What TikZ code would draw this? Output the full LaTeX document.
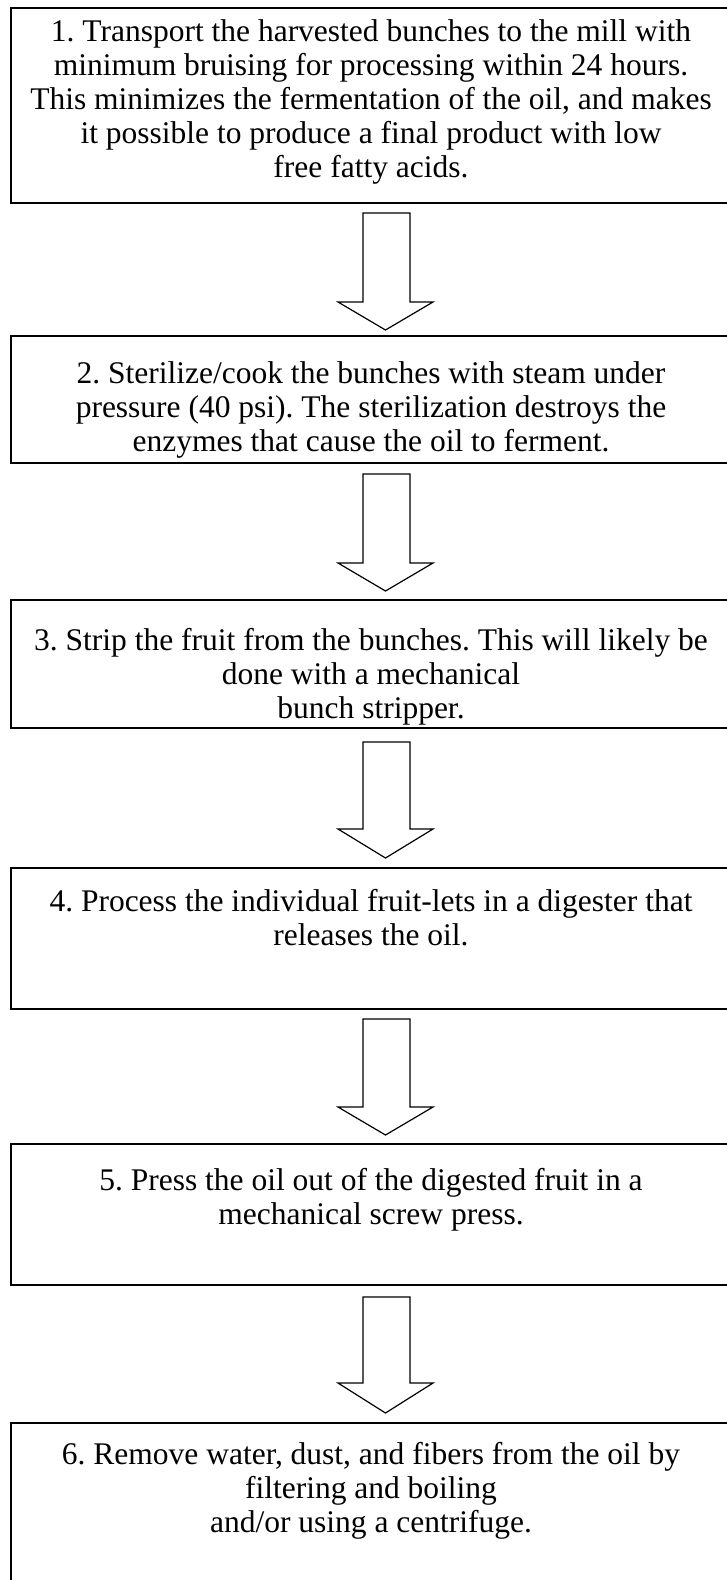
\documentclass[tikz,border=0pt]{standalone}
\usepackage{fontspec}
\setmainfont{Liberation Serif}
\usetikzlibrary{calc}
\tikzset{
  stepbox/.style={draw=black, line width=1.8pt, rectangle, anchor=north west, minimum width=720pt, inner sep=0pt, outer sep=0pt},
  txt/.style={anchor=north, align=center, inner sep=0pt, font=\fontsize{31.5}{34}\selectfont\frenchspacing},
  blockarrow/.style={draw=black, line width=1.2pt, line join=miter, fill=white}
}
\newcommand{\fl}{\rule{0pt}{24pt}}
\frenchspacing
\begin{document}
\begin{tikzpicture}[x=1pt,y=-1pt]
\useasboundingbox (0,0) rectangle (727,1580);
\clip (0,0) rectangle (727,1580);
\fill[white] (0,0) rectangle (727,1580);

% boxes
\node[stepbox, minimum height=195pt] (b1) at (11,8) {};
\node[stepbox, minimum height=127pt] (b2) at (11,336) {};
\node[stepbox, minimum height=128pt] (b3) at (11,600) {};
\node[stepbox, minimum height=141pt] (b4) at (11,868) {};
\node[stepbox, minimum height=141pt] (b5) at (11,1144) {};
\node[stepbox, minimum height=200pt] (b6) at (11,1423) {};

% texts
\node[txt] (t1) at (371,17) {\fl 1. Transport the harvested bunches to the mill with\\ minimum bruising for processing within 24 hours.\\ This minimizes the fermentation of the oil, and makes\\ it possible to produce a final product with low\\ free fatty acids.};
\node[txt] (t2) at (371,359) {\fl 2. Sterilize/cook the bunches with steam under\\ pressure (40 psi). The sterilization destroys the\\ enzymes that cause the oil to ferment.};
\node[txt] (t3) at (371,626) {\fl 3. Strip the fruit from the bunches. This will likely be\\ done with a mechanical\\ bunch stripper.};
\node[txt] (t4) at (371,887) {\fl 4. Process the individual fruit-lets in a digester that\\ releases the oil.};
\node[txt] (t5) at (371,1166) {\fl 5. Press the oil out of the digested fruit in a\\ mechanical screw press.};
\node[txt] (t6) at (371,1440) {\fl 6. Remove water, dust, and fibers from the oil by\\ filtering and boiling\\ and/or using a centrifuge.};

% block arrows: top y, head base y, tip y
\foreach \top/\base/\tip [count=\i] in {213/302/330, 474/563/591, 742/829/858, 1019/1107/1135, 1297/1383/1413} {
  \draw[blockarrow] (363,\top) -- (410,\top) -- (410,\base) -- (433,\base) -- (385.5,\tip) -- (338,\base) -- (363,\base) -- cycle;
}
\end{tikzpicture}
\end{document}
